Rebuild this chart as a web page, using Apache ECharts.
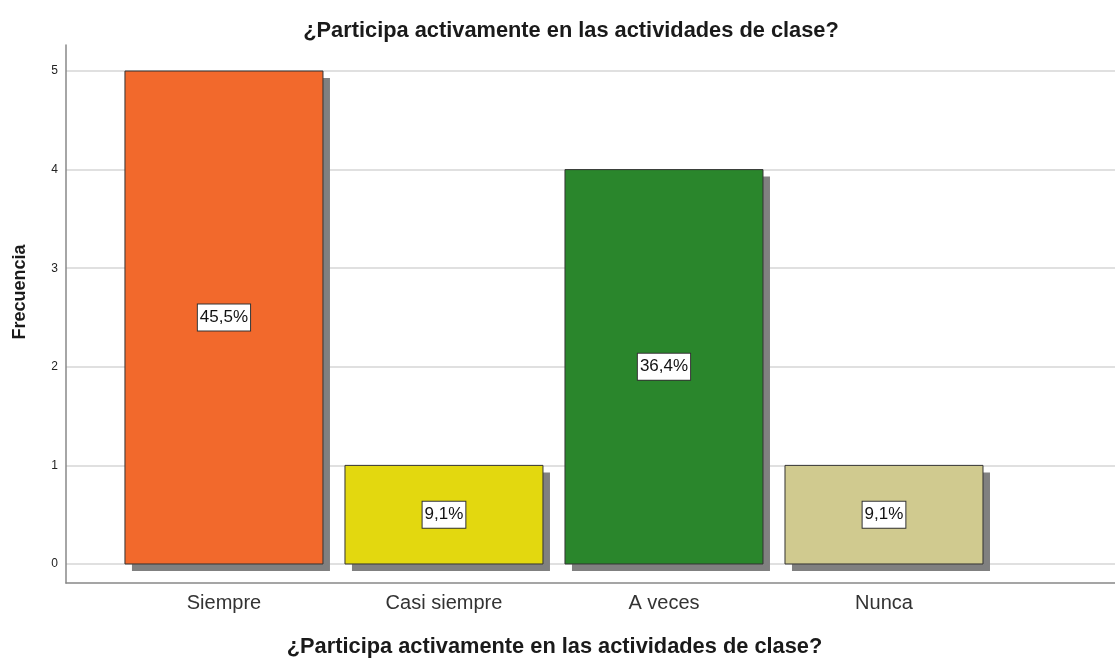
<!DOCTYPE html>
<html><head><meta charset="utf-8">
<script src="https://cdn.jsdelivr.net/npm/echarts@6/dist/echarts.min.js"></script>
<style>html,body{margin:0;padding:0;background:#fff}#c{width:1115px;height:658px}</style>
</head><body><div id="c"></div>
<script>
const title = '¿Participa activamente en las actividades de clase?';
const categories = ['Siempre', 'Casi siempre', 'A veces', 'Nunca'];
const counts = [5, 1, 4, 1];
const percents = ['45,5%', '9,1%', '36,4%', '9,1%'];
const colors = ['#f2692c', '#e3d80f', '#2a862c', '#d0ca8f'];
const yTicks = [0, 1, 2, 3, 4, 5];
const xTicks = [0, 1, 2, 3];

const FONT = 'Liberation Sans';
const chart = echarts.init(document.getElementById('c'));
chart.setOption({
  animation: false,
  title: { text: title, left: 566, top: 15, textAlign: 'center',
    textStyle: { fontFamily: FONT, fontSize: 21.8, fontWeight: 'bold', color: '#1a1a1a' } },
  grid: { left: 66, right: 0, top: 45, bottom: 75, outerBoundsMode: 'none' },
  xAxis: {
    type: 'value', min: -0.718, max: 4.05,
    name: title, nameLocation: 'middle', nameGap: 53,
    nameTextStyle: { fontFamily: FONT, fontSize: 21.8, fontWeight: 'bold', color: '#1a1a1a', padding: [0, 72, 0, 0] },
    axisLine: { show: true, onZero: false, lineStyle: { color: '#888', width: 1.5 } },
    axisTick: { show: false },
    splitLine: { show: false },
    axisLabel: { customValues: xTicks, margin: 10, fontFamily: FONT, fontSize: 20, color: '#333',
      formatter: v => categories[Math.round(v)] }
  },
  yAxis: {
    type: 'value', min: -0.193, max: 5.264,
    name: 'Frecuencia', nameLocation: 'middle', nameGap: 37, nameRotate: 90,
    nameTextStyle: { fontFamily: FONT, fontSize: 18, fontWeight: 'bold', color: '#1a1a1a', padding: [0, 0, 0, 44] },
    axisLine: { show: true, onZero: false, lineStyle: { color: '#888', width: 1.5 } },
    axisTick: { show: false, customValues: yTicks },
    axisLabel: { customValues: yTicks, margin: 8, fontFamily: FONT, fontSize: 12, color: '#222' },
    splitLine: { show: true, lineStyle: { color: '#d6d6d6', width: 1.5 } }
  },
  series: [{
    type: 'custom',
    data: counts.map((v, i) => [i, v]),
    encode: { x: 0, y: 1 },
    renderItem: (params, api) => {
      const i = params.dataIndex;
      const x = api.value(0), v = api.value(1);
      const top = api.coord([x, v]);
      const base = api.coord([x, 0]);
      const w = api.size([0.9, 0])[0];
      const h = base[1] - top[1];
      const left = top[0] - w / 2;
      return {
        type: 'group',
        children: [
          { type: 'rect', shape: { x: left + 7, y: top[1] + 7, width: w, height: h }, style: { fill: '#808080' } },
          { type: 'rect', shape: { x: left, y: top[1], width: w, height: h },
            style: { fill: colors[i], stroke: '#333', lineWidth: 1 } },
          { type: 'text', x: top[0], y: top[1] + h / 2,
            style: { text: percents[i], align: 'center', verticalAlign: 'middle',
              font: '17px "Liberation Sans"', fill: '#111',
              backgroundColor: '#fff', borderColor: '#333', borderWidth: 1, padding: [5, 2, 4, 2] } }
        ]
      };
    }
  }]
});
</script></body></html>
